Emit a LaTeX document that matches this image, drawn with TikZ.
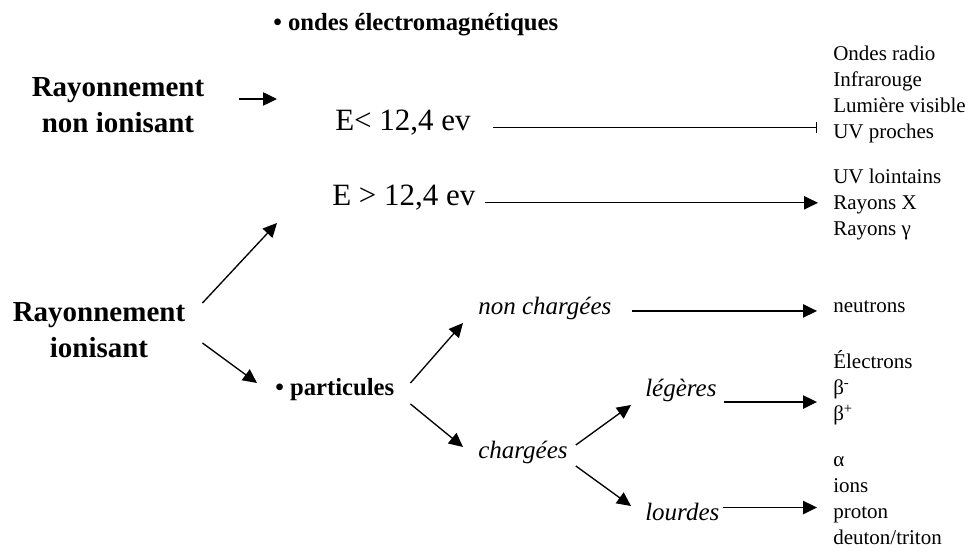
\documentclass[tikz,border=0pt]{standalone}
\usepackage{fontspec}
\setmainfont{Liberation Serif}
\usetikzlibrary{positioning,arrows.meta}
\tikzset{
  titre/.style={font=\bfseries\fontsize{21.75}{27}\selectfont, align=center, inner sep=0pt},
  categ/.style={font=\bfseries\fontsize{18.5}{22}\selectfont, anchor=west, inner sep=0pt},
  energie/.style={font=\fontsize{23.25}{28}\selectfont, anchor=west, inner sep=0pt},
  sorte/.style={font=\itshape\fontsize{18.75}{22}\selectfont, anchor=west, inner sep=0pt},
  liste/.style={font=\fontsize{15.75}{19.5}\selectfont, anchor=west, align=left, inner sep=0pt},
  fleche/.style={-{Triangle[length=10.5pt,width=10pt]}, line width=1pt},
  butee/.style={-{Bar[width=8.5pt]}, line width=1pt}
}

\begin{document}
\begin{tikzpicture}[x=0.75pt, y=-0.75pt]
    \useasboundingbox (0,0) rectangle (970,555);

    % les deux familles
    \node[titre] (rni) at (118,105) {Rayonnement\\non ionisant};
    \node[titre] (ri) at (99,330) {Rayonnement\\ionisant};

    % ondes electromagnetiques
    \node[categ] (ondes) at (273,25) {• ondes électromagnétiques};
    \coordinate (em1) at (277,99);
    \coordinate (em2) at (277,223);
    \node[energie] (einf) at (335,123) {E< 12,4 ev};
    \node[energie] (esup) at (332,198) {E > 12,4 ev};
    \node[liste] (lst1) at (833,94) {Ondes radio\\Infrarouge\\Lumière visible\\UV proches};
    \node[liste] (lst2) at (833,204) {UV lointains\\Rayons X\\Rayons γ};

    % particules
    \node[categ] (part) at (275,390) {• particules};
    \node[sorte] (nonch) at (478,308) {non chargées};
    \node[sorte] (charg) at (478,452) {chargées};
    \node[sorte] (leg) at (645,390) {légères};
    \node[sorte] (lourd) at (645,512) {lourdes};
    \node[liste] (neutr) at (833,307) {neutrons};
    \node[liste] (lst3) at (833,388) {Électrons\\β\textsuperscript{-}\\β\textsuperscript{+}};
    \node[liste] (lst4) at (833,501) {α\\ions\\proton\\deuton/triton};

    \draw[fleche] ([shift={(34.5,-6)}]rni.east) -- (em1);
    \draw[fleche] ([shift={(17,-27)}]ri.east) -- (em2);
    \draw[fleche] ([shift={(17,13)}]ri.east) -- ([shift={(-18,-7)}]part.west);

    \draw[butee, shorten <=16.5pt, shorten >=12pt] (einf.mid east) -- (einf.mid east -| lst1.west);
    \draw[fleche, shorten <=6.75pt, shorten >=11.25pt] (esup.mid east) -- (esup.mid east -| lst2.west);

    \draw[fleche] ([shift={(16,-7)}]part.east) -- ([shift={(-15,15)}]nonch.west);
    \draw[fleche] ([shift={(16,14)}]part.east) -- ([shift={(-15,-5)}]charg.west);
    \draw[fleche] ([shift={(8,-7)}]charg.east) -- ([shift={(-14,15)}]leg.west);
    \draw[fleche] ([shift={(8,14)}]charg.east) -- ([shift={(-14,-6)}]lourd.west);

    \draw[fleche, shorten <=15pt, shorten >=12pt] (nonch.mid east) -- (nonch.mid east -| neutr.west);
    \draw[fleche, shorten <=5.25pt, shorten >=12pt] ([yshift=-4.5pt]leg.base east) -- ([yshift=-4.5pt]leg.base east -| lst3.west);
    \draw[fleche, shorten <=2.25pt, shorten >=12pt] ([yshift=9.75pt]lourd.base east) -- ([yshift=9.75pt]lourd.base east -| lst4.west);
\end{tikzpicture}
\end{document}
